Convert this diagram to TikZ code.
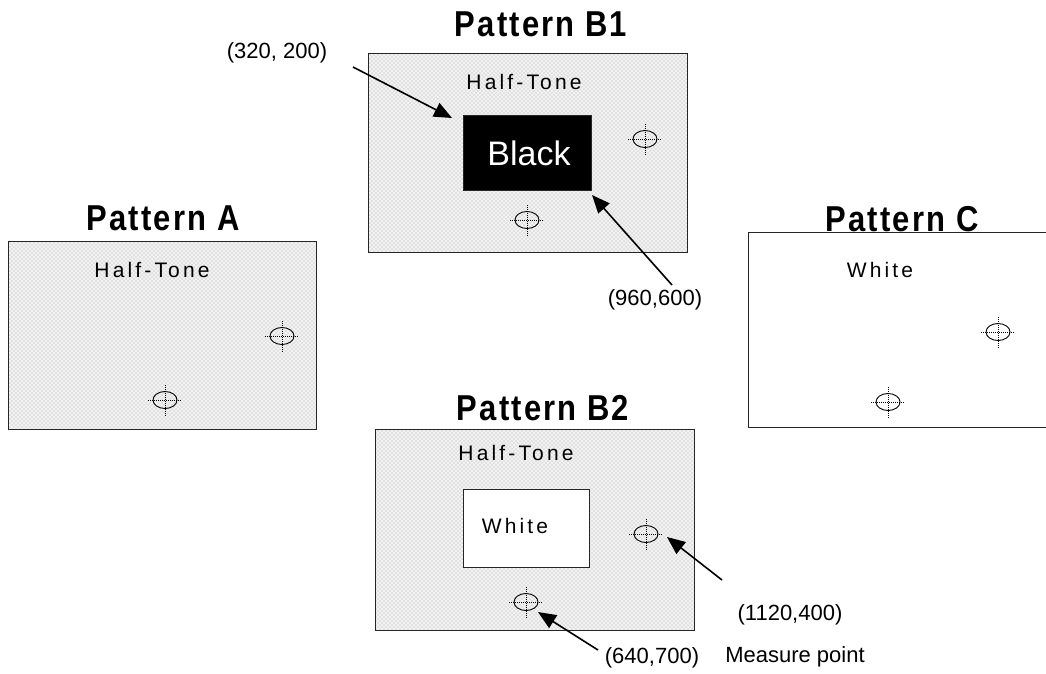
\documentclass[tikz,border=0pt]{standalone}
\usepackage{fontspec}
\setmainfont{Liberation Sans}
\newfontfamily\spacedfont[LetterSpace=15]{Liberation Sans}
\newfontfamily\titlefont[FakeStretch=0.86,LetterSpace=6]{Liberation Sans Bold}
\usetikzlibrary{arrows.meta,shapes.geometric,patterns}
\pgfdeclarepatternformonly{htdots}{\pgfqpoint{-1pt}{-1pt}}{\pgfqpoint{4pt}{4pt}}{\pgfqpoint{4pt}{4pt}}{%
  \pgfpathcircle{\pgfqpoint{0pt}{0pt}}{0.95pt}\pgfusepath{fill}%
  \pgfpathcircle{\pgfqpoint{2pt}{2pt}}{0.95pt}\pgfusepath{fill}}
\newcommand\mtarget[2]{%
  \node[tgt] (#1) at (#2) {};
  \draw[cross] ([xshift=-17pt]#1.center) -- ([xshift=17pt]#1.center);
  \draw[cross] ([yshift=-16pt]#1.center) -- ([yshift=16pt]#1.center);}
\begin{document}
\begin{tikzpicture}[x=1pt,y=-1pt,
  frame/.style={draw=black!85, line width=0.9pt, anchor=north west, inner sep=0pt},
  halftone/.style={frame, preaction={fill=black!5}, preaction={pattern=htdots, pattern color=black!18}},
  whitebox/.style={frame, fill=white},
  title/.style={font=\titlefont\fontsize{36}{40}\selectfont, inner sep=0pt},
  inlabel/.style={font=\spacedfont\fontsize{21}{25}\selectfont, inner sep=0pt},
  lbl/.style={font=\fontsize{22}{26}\selectfont, inner sep=0pt},
  arr/.style={line width=1.6pt, -{Triangle[length=18pt,width=15pt]}},
  tgt/.style={ellipse, draw, line width=0.9pt, inner sep=0pt, minimum width=24pt, minimum height=17pt},
  cross/.style={line width=0.6pt, dash pattern=on 1pt off 1pt}]
\useasboundingbox (0,0) rectangle (1046,673);

% Pattern A
\node[halftone, minimum width=308pt, minimum height=188pt] (boxA) at (8,241) {};
\node[title] (titleA) at (163,218) {Pattern A};
\node[inlabel] (htA) at (152,270) {Half-Tone};
\mtarget{tA1}{282,336}
\mtarget{tA2}{165,400}

% Pattern B1
\node[halftone, minimum width=319pt, minimum height=199pt] (boxB1) at (368,53) {};
\node[title] (titleB1) at (541,24) {Pattern B1};
\node[inlabel] (htB1) at (524,82) {Half-Tone};
\node[frame, fill=black, minimum width=128pt, minimum height=75pt] (black) at (463,115) {};
\node[font=\fontsize{34}{40}\selectfont, text=white, inner sep=0pt] (blacktxt) at (529,153) {Black};
\mtarget{tB1a}{645,139}
\mtarget{tB1b}{527,220}
\node[lbl] (l320) at (277,53) {(320, 200)};
\node[lbl] (l960) at (655,300) {(960,600)};
\coordinate (a1s) at (353,67);
\coordinate (a1e) at (452,118);
\coordinate (a2s) at (672,285);
\coordinate (a2e) at (592,195);
\draw[arr] (a1s) -- (a1e);
\draw[arr] (a2s) -- (a2e);

% Pattern C
\node[whitebox, minimum width=300pt, minimum height=195pt] (boxC) at (748,232) {};
\node[title] (titleC) at (902,219) {Pattern C};
\node[inlabel] (whC) at (880,270) {White};
\mtarget{tC1}{998,332}
\mtarget{tC2}{888,402}

% Pattern B2
\node[halftone, minimum width=319pt, minimum height=201pt] (boxB2) at (375,429) {};
\node[title] (titleB2) at (543,408) {Pattern B2};
\node[inlabel] (htB2) at (516,453) {Half-Tone};
\node[whitebox, minimum width=126pt, minimum height=78pt] (whiteB2) at (463,489) {};
\node[inlabel] (whB2) at (515,526) {White};
\mtarget{tB2a}{646,534}
\mtarget{tB2b}{526,602}
\node[lbl] (l1120) at (790,615) {(1120,400)};
\node[lbl] (lmeas) at (795,657) {Measure point};
\node[lbl] (l640) at (652,658) {(640,700)};
\coordinate (a3s) at (722,580);
\coordinate (a3e) at (667,537);
\coordinate (a4s) at (598,650);
\coordinate (a4e) at (538,612);
\draw[arr] (a3s) -- (a3e);
\draw[arr] (a4s) -- (a4e);
\end{tikzpicture}
\end{document}
